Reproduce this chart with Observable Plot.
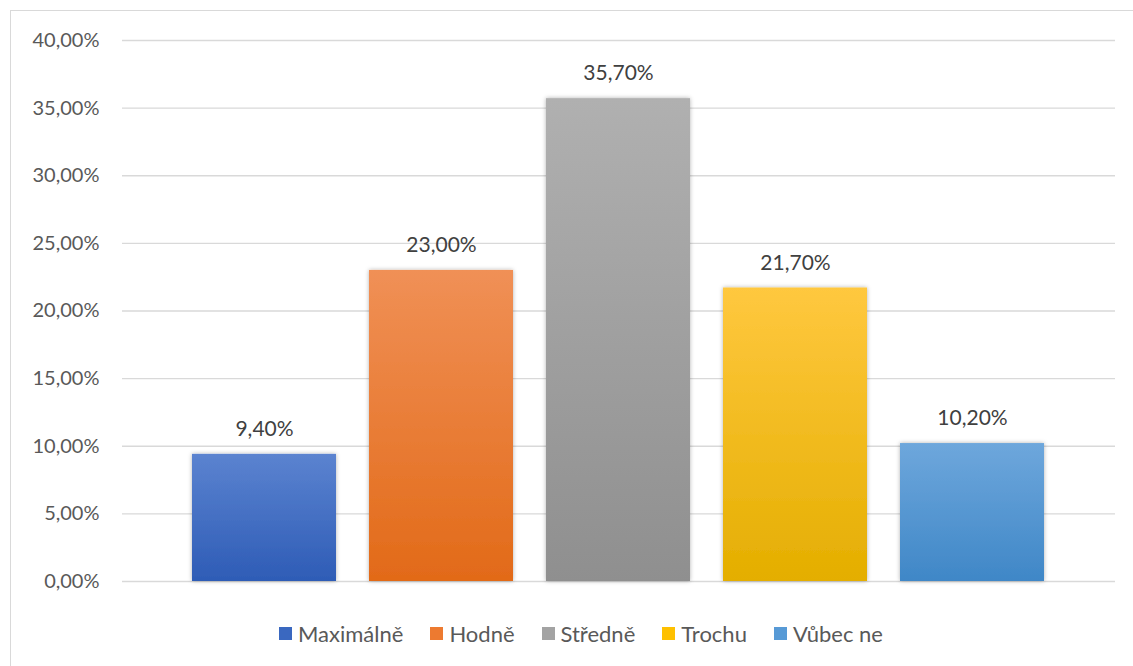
<!DOCTYPE html>
<html>
<head>
<meta charset="utf-8">
<script src="https://cdn.jsdelivr.net/npm/d3@7"></script>
<script src="https://cdn.jsdelivr.net/npm/@observablehq/plot@0.6"></script>
<style>
  html, body { margin: 0; padding: 0; background: #fff; overflow: hidden; width: 1133px; height: 666px; }
  #frame { position: absolute; left: 10px; top: 10px; width: 1140px; height: 670px; border: 1px solid #d9d9d9; box-sizing: border-box; }
  #chart { position: absolute; left: 0; top: 0; }
  #legend { position: absolute; left: 279px; top: 618px; height: 30px; display: flex; align-items: center; gap: 27px;
            font-family: Lato, "Open Sans", sans-serif; font-size: 22px; color: #595959; white-space: nowrap; }
  .item { display: flex; align-items: center; gap: 6px; }
  .sw { width: 13px; height: 13px; display: inline-block; }
</style>
</head>
<body>
<div id="frame"></div>
<div id="chart"></div>
<div id="legend"></div>
<script>
const categories = ["Maximálně", "Hodně", "Středně", "Trochu", "Vůbec ne"];
const values = [9.4, 23.0, 35.7, 21.7, 10.2];
const yTicks = [0, 5, 10, 15, 20, 25, 30, 35, 40];

// palette (style)
const topColors = ["#5b83d0", "#f09056", "#b0b0b0", "#ffc83f", "#6ea7dc"];
const bottomColors = ["#2e5cb6", "#e26a18", "#8f8f8f", "#e4ae00", "#3f87c7"];
const legendColors = ["#3a68c0", "#ed7a30", "#a3a3a3", "#fec000", "#579ad6"];

const fmt = v => v.toFixed(2).replace(".", ",") + "%";
const data = categories.map((c, i) => ({ cat: c, value: values[i], idx: i }));

const chart = Plot.plot({
  width: 1133,
  height: 600,
  marginLeft: 122,
  marginRight: 18,
  marginTop: 40,
  marginBottom: 19,
  style: { fontFamily: "Lato, 'Open Sans', sans-serif", fontSize: "20px", color: "#595959", background: "transparent" },
  x: { domain: categories, paddingInner: 0.186, paddingOuter: 0.398, axis: null },
  y: { domain: [0, 40], ticks: yTicks, tickFormat: fmt, tickSize: 0, tickPadding: 23, label: null },
  color: { type: "identity" },
  marks: [
    Plot.ruleY(yTicks, { stroke: "#d9d9d9", strokeWidth: 1.3 }),
    Plot.barY(data, { x: "cat", y: "value", fill: d => `url(#grad${d.idx})` }),
    Plot.text(data, { x: "cat", y: "value", text: d => fmt(d.value), dy: -25, fill: "#404040", fontSize: 21 })
  ]
});
document.getElementById("chart").appendChild(chart);

const svg = d3.select(chart);
const defs = svg.insert("defs", ":first-child");
data.forEach((d, i) => {
  const g = defs.append("linearGradient").attr("id", "grad" + i)
    .attr("x1", 0).attr("y1", 0).attr("x2", 0).attr("y2", 1);
  g.append("stop").attr("offset", "0%").attr("stop-color", topColors[i]);
  g.append("stop").attr("offset", "100%").attr("stop-color", bottomColors[i]);
});
const f = defs.append("filter").attr("id", "shadow").attr("x", "-10%").attr("y", "-10%").attr("width", "120%").attr("height", "120%");
f.append("feDropShadow").attr("dx", 0).attr("dy", 0).attr("stdDeviation", 2).attr("flood-color", "#000").attr("flood-opacity", 0.3);
svg.selectAll("g[aria-label='bar']").attr("filter", "url(#shadow)");

const legend = d3.select("#legend");
categories.forEach((c, i) => {
  const it = legend.append("div").attr("class", "item");
  it.append("span").attr("class", "sw").style("background", legendColors[i]);
  it.append("span").text(c);
});
</script>
</body>
</html>
